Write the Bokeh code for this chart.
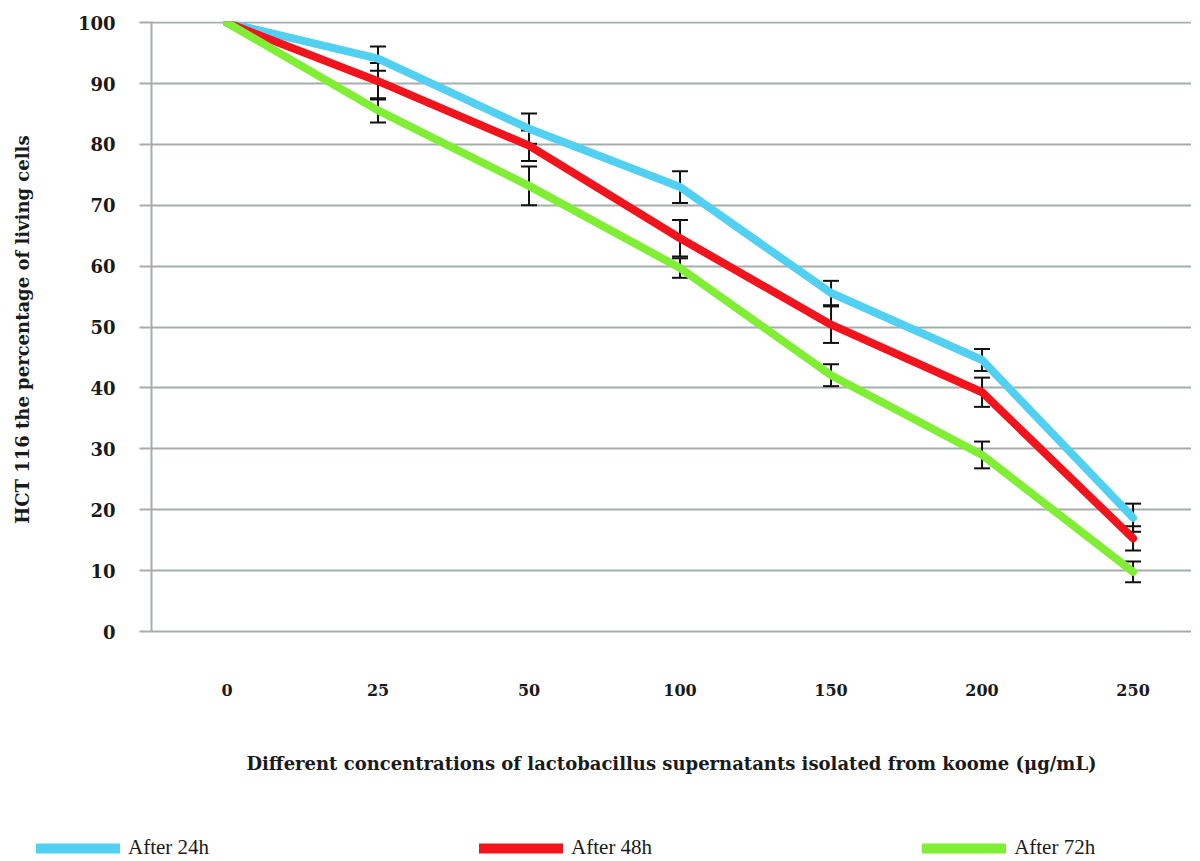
from bokeh.plotting import figure
from bokeh.layouts import column
from bokeh.models import ColumnDataSource, Whisker, TeeHead, FixedTicker, Legend, LegendItem, Range1d
from bokeh.embed import file_html
from bokeh.resources import INLINE

concentrations = ["0", "25", "50", "100", "150", "200", "250"]
after_24h = [100, 94.1, 82.6, 73.0, 55.6, 44.6, 18.7]
after_48h = [100, 90.4, 79.8, 64.6, 50.4, 39.3, 15.3]
after_72h = [100, 85.6, 73.2, 59.7, 42.1, 29.0, 9.8]
err_24h = [0, 2.0, 2.5, 2.6, 2.0, 1.8, 2.3]
err_48h = [0, 3.0, 2.5, 3.0, 3.0, 2.4, 2.0]
err_72h = [0, 2.0, 3.2, 1.6, 1.8, 2.2, 1.7]
y_ticks = list(range(0, 101, 10))
series_names = ["After 24h", "After 48h", "After 72h"]
series_colors = ["#52d0f2", "#f2141c", "#80ee34"]

GRID = "#a6aeac"
SERIF = "Liberation Serif"
BOLD_SERIF = "DejaVu Serif"

xpos = list(range(len(concentrations)))
all_series = [after_24h, after_48h, after_72h]

p = figure(frame_width=1040, frame_height=610, output_backend="svg", toolbar_location=None,
           x_range=Range1d(-0.5, 6.387), y_range=Range1d(0, 100.2),
           min_border_left=151, min_border_top=21, min_border_right=0, min_border_bottom=150)
p.outline_line_color = None
p.background_fill_color = "white"
p.border_fill_color = "white"

p.xgrid.grid_line_color = None
p.ygrid.ticker = FixedTicker(ticks=y_ticks)
p.ygrid.grid_line_color = GRID
p.ygrid.grid_line_width = 2

p.yaxis.ticker = FixedTicker(ticks=y_ticks)
p.yaxis.axis_line_color = GRID
p.yaxis.axis_line_width = 2
p.yaxis.major_tick_line_color = GRID
p.yaxis.major_tick_line_width = 2
p.yaxis.major_tick_out = 12
p.yaxis.major_tick_in = 0
p.yaxis.minor_tick_line_color = None
p.yaxis.major_label_standoff = 24
p.yaxis.major_label_text_font = BOLD_SERIF
p.yaxis.major_label_text_font_style = "bold"
p.yaxis.major_label_text_font_size = "18px"
p.yaxis.major_label_text_color = "#1a1a1a"
p.yaxis.axis_label = "HCT 116 the percentage of living  cells"
p.yaxis.axis_label_text_font = BOLD_SERIF
p.yaxis.axis_label_text_font_style = "bold"
p.yaxis.axis_label_text_font_size = "18px"
p.yaxis.axis_label_text_color = "#1a1a1a"
p.yaxis.axis_label_standoff = 42

p.xaxis.ticker = FixedTicker(ticks=xpos)
p.xaxis.major_label_overrides = {i: c for i, c in zip(xpos, concentrations)}
p.xaxis.axis_line_color = GRID
p.xaxis.axis_line_width = 2
p.xaxis.major_tick_line_color = None
p.xaxis.minor_tick_line_color = None
p.xaxis.major_label_standoff = 46
p.xaxis.major_label_text_font = BOLD_SERIF
p.xaxis.major_label_text_font_style = "bold"
p.xaxis.major_label_text_font_size = "16px"
p.xaxis.major_label_text_color = "#1a1a1a"
p.xaxis.axis_label = "Different concentrations of lactobacillus supernatants isolated from koome (\u03bcg/mL)"
p.xaxis.axis_label_text_font = BOLD_SERIF
p.xaxis.axis_label_text_font_style = "bold"
p.xaxis.axis_label_text_font_size = "18px"
p.xaxis.axis_label_text_color = "#1a1a1a"
p.xaxis.axis_label_standoff = 54

for name, vals, color in zip(series_names, all_series, series_colors):
    src = ColumnDataSource(dict(x=xpos, y=vals))
    p.line("x", "y", source=src, line_color=color, line_width=8,
           line_cap="round", line_join="round")

for vals, errs in zip(all_series, [err_24h, err_48h, err_72h]):
    xs = [x for x, e in zip(xpos, errs) if e > 0]
    up = [v + e for v, e in zip(vals, errs) if e > 0]
    lo = [v - e for v, e in zip(vals, errs) if e > 0]
    wsrc = ColumnDataSource(dict(x=xs, upper=up, lower=lo))
    w = Whisker(base="x", upper="upper", lower="lower", source=wsrc,
                line_color="#111111", line_width=2,
                upper_head=TeeHead(size=16, line_width=2, line_color="#111111"),
                lower_head=TeeHead(size=16, line_width=2, line_color="#111111"))
    p.add_layout(w)

# legend strip below the chart (its series lie outside its view; only the legend shows)
lg = figure(width=1191, height=79, output_backend="svg", toolbar_location=None,
            x_range=Range1d(-100, -99), y_range=Range1d(-100, -99),
            min_border_left=0, min_border_right=0, min_border_top=0, min_border_bottom=0)
lg.outline_line_color = None
lg.axis.visible = False
lg.grid.visible = False
try:
    lg.frame_align = False
    p.frame_align = False
except Exception:
    pass
items = []
for name, vals, color in zip(series_names, all_series, series_colors):
    r = lg.line(x=xpos, y=vals, line_color=color, line_width=10, line_cap="round")
    items.append(LegendItem(label=name, renderers=[r]))
legend = Legend(items=items, orientation="horizontal", location=(36, 0),
                glyph_width=84, glyph_height=14, label_standoff=8, spacing=270,
                padding=0, margin=0, border_line_color=None, background_fill_alpha=0,
                label_text_font=SERIF, label_text_font_size="21px", label_text_color="#1a1a1a")
lg.add_layout(legend, "center")

open("out.html", "w").write(file_html(column(p, lg), INLINE))
